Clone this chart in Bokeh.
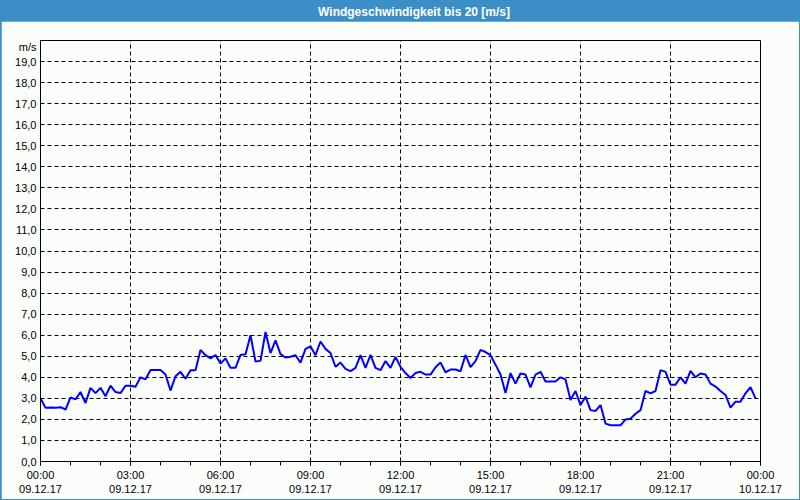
from bokeh.plotting import figure
from bokeh.layouts import column
from bokeh.models import Range1d, FixedTicker, Label
from bokeh.embed import file_html
from bokeh.resources import INLINE

# ---------------- data ----------------
title_text = "Windgeschwindigkeit bis 20 [m/s]"
unit_text = "m/s"

x_tick_hours = [0, 3, 6, 9, 12, 15, 18, 21, 24]
x_tick_times = ["00:00", "03:00", "06:00", "09:00", "12:00", "15:00", "18:00", "21:00", "00:00"]
x_tick_dates = ["09.12.17", "09.12.17", "09.12.17", "09.12.17", "09.12.17",
                "09.12.17", "09.12.17", "09.12.17", "10.12.17"]
x_minor_hours = list(range(0, 25))

y_tick_values = list(range(0, 20))
y_tick_labels = ["0,0", "1,0", "2,0", "3,0", "4,0", "5,0", "6,0", "7,0", "8,0", "9,0",
                 "10,0", "11,0", "12,0", "13,0", "14,0", "15,0", "16,0", "17,0", "18,0", "19,0"]
y_grid_values = list(range(0, 21))
unit_label_y = 19.7  # "m/s" sits just below the top of the 0..20 scale

step_minutes = 10  # one reading every 10 minutes, 09.12.17 00:00 .. 23:50
wind_speed = [
    3.0, 2.55, 2.57, 2.55, 2.58, 2.47, 3.05, 2.95, 3.3, 2.78, 3.5, 3.25, 3.5, 3.1, 3.6, 3.3,
    3.25, 3.6, 3.6, 3.55, 4.0, 3.9, 4.35, 4.35, 4.35,
    4.13, 3.37, 4.05, 4.26, 3.93, 4.34, 4.34, 5.3, 5.05, 4.9, 5.06, 4.65, 4.9, 4.45, 4.45,
    5.06, 5.1, 6.0, 4.75, 4.78, 6.15, 5.15, 5.75, 5.1,
    4.94, 4.98, 5.05, 4.7, 5.35, 5.47, 5.05, 5.7, 5.35, 5.15, 4.5, 4.7, 4.4, 4.29, 4.45,
    5.05, 4.45, 5.06, 4.45, 4.34, 4.77, 4.45, 4.97, 4.5,
    4.2, 3.97, 4.2, 4.26, 4.13, 4.13, 4.48, 4.7, 4.24, 4.37, 4.37, 4.29, 5.06, 4.48, 4.77,
    5.3, 5.2, 5.05, 4.6, 4.13, 3.25, 4.2, 3.7, 4.18,
    4.13, 3.52, 4.13, 4.26, 3.8, 3.8, 3.8, 4.0, 3.9, 2.92, 3.35, 2.68, 3.08, 2.44, 2.4,
    2.68, 1.8, 1.72, 1.72, 1.72, 2.0, 2.03, 2.27, 2.44,
    3.35, 3.24, 3.35, 4.34, 4.26, 3.65, 3.65, 4.0, 3.7, 4.3, 4.0, 4.18, 4.13, 3.7, 3.56,
    3.35, 3.16, 2.56, 2.84, 2.84, 3.24, 3.53, 3.0,
]
hours = [i * step_minutes / 60 for i in range(len(wind_speed))]

# ---------------- style / layout ----------------
W, H = 798, 498          # inside a 1px border -> 800 x 500
BAR_H = 20
BG = "#fbfdfb"
BAR = "#3c8fc6"
FONT = "Liberation Sans"

# ---- title bar (transparent figure on the blue page background) ----
t = figure(width=W, height=BAR_H, output_backend="svg", toolbar_location=None,
           x_range=Range1d(0, W), y_range=Range1d(0, BAR_H),
           x_axis_location=None, y_axis_location=None,
           min_border=0, background_fill_color=None, border_fill_color=None,
           outline_line_color=None)
t.xgrid.visible = False
t.ygrid.visible = False
t.add_layout(Label(x=414, y=BAR_H / 2, text=title_text, text_align="center",
                   text_baseline="middle", text_color="white", text_font=FONT,
                   text_font_style="bold", text_font_size="12px"))

# ---- chart ----
PH = H - BAR_H
p = figure(width=W, height=PH, output_backend="svg", toolbar_location=None,
           x_range=Range1d(0, 24), y_range=Range1d(0, 20),
           min_border_left=39, min_border_right=39,
           min_border_top=19, min_border_bottom=38,
           background_fill_color=BG, border_fill_color=BG,
           outline_line_color="black", outline_line_width=1)

p.xaxis.ticker = FixedTicker(ticks=x_tick_hours, minor_ticks=x_minor_hours)
p.xaxis.major_label_overrides = {h: f"{tt}\n{d}" for h, tt, d in zip(x_tick_hours, x_tick_times, x_tick_dates)}
p.yaxis.ticker = FixedTicker(ticks=y_tick_values + [unit_label_y])
overrides = {v: s for v, s in zip(y_tick_values, y_tick_labels)}
overrides[unit_label_y] = unit_text
p.yaxis.major_label_overrides = overrides

for ax in (p.xaxis[0], p.yaxis[0]):
    ax.axis_line_color = "black"
    ax.axis_line_width = 1
    ax.major_tick_line_color = "black"
    ax.minor_tick_line_color = "black"
    ax.major_tick_in = 0
    ax.minor_tick_in = 0
    ax.major_label_text_font = FONT
    ax.major_label_text_font_size = "11px"
    ax.major_label_text_color = "black"

p.xaxis.major_tick_out = 4
p.xaxis.minor_tick_out = 4
p.xaxis.major_label_standoff = 3
p.yaxis.major_tick_out = 0
p.yaxis.minor_tick_line_color = None
p.yaxis.major_label_standoff = 4

p.xgrid.ticker = FixedTicker(ticks=x_tick_hours)
p.ygrid.ticker = FixedTicker(ticks=y_grid_values)
p.grid.grid_line_color = "black"
p.grid.grid_line_width = 1
p.grid.grid_line_dash = "4 3"
p.grid.grid_line_alpha = 1.0

p.line(hours, wind_speed, line_color="#0000ff", line_width=2)

layout = column(t, p, spacing=0, styles={"border": f"1px solid {BAR}", "background-color": BAR})

open("out.html", "w").write(file_html(layout, INLINE))
